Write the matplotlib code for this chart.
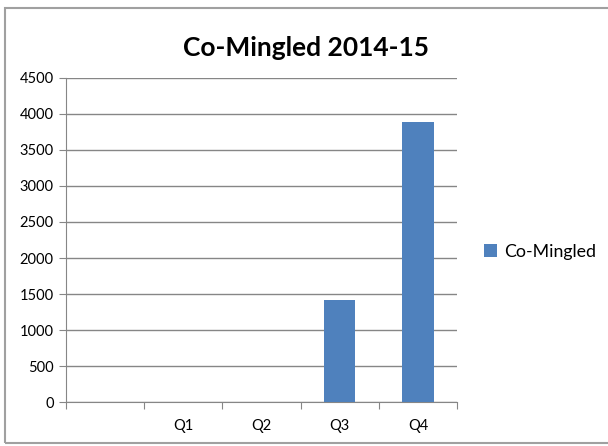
import matplotlib
matplotlib.use("Agg")
import matplotlib.pyplot as plt
from matplotlib.patches import Rectangle

categories = ["", "Q1", "Q2", "Q3", "Q4"]
values = [0, 0, 0, 1420, 3880]
yticks = [0, 500, 1000, 1500, 2000, 2500, 3000, 3500, 4000, 4500]

plt.rcParams["font.family"] = ["Lato", "DejaVu Sans"]

W, H = 608, 446
fig = plt.figure(figsize=(W / 100, H / 100), dpi=100)
ax = fig.add_axes([66 / W, 1 - 402.3 / H, (457 - 66) / W, (402.3 - 77.7) / H])

grey = "#868686"
x = list(range(len(categories)))
nonzero = [(i, v) for i, v in zip(x, values) if v > 0]
ax.bar([i for i, _ in nonzero], [v for _, v in nonzero], width=0.4,
       color="#4f81bd", label="Co-Mingled", zorder=3)

ax.set_xlim(-0.5, len(categories) - 0.5)
ax.set_ylim(0, 4500)
ax.set_yticks(yticks)
ax.set_yticklabels([str(t) for t in yticks])
ax.yaxis.grid(True, color=grey, lw=1, zorder=0)

ax.set_xticks([i - 0.5 for i in range(len(categories) + 1)])
ax.set_xticklabels([])
ax.set_xticks(x, minor=True)
ax.set_xticklabels(categories, minor=True)
ax.tick_params(axis="x", which="major", length=5, color=grey)
ax.tick_params(axis="x", which="minor", length=0, pad=12, labelsize=10.5)
ax.tick_params(axis="y", length=5, color=grey, labelsize=10.5, pad=4)

for s in ["top", "right"]:
    ax.spines[s].set_visible(False)
for s in ["left", "bottom"]:
    ax.spines[s].set_color(grey)

fig.text(306 / W, 1 - 48 / H, "Co-Mingled 2014-15", ha="center", va="center",
         fontsize=19, fontweight="bold")

leg = ax.legend(loc="center left", bbox_to_anchor=(468 / W, 1 - 252 / H),
                bbox_transform=fig.transFigure, frameon=False, fontsize=12.8,
                handlelength=0.75, handleheight=0.75, handletextpad=0.4)

fig.patches.append(Rectangle((4.5 / W, 1 - 443 / H), 1, (443 - 8) / H,
                             transform=fig.transFigure, fill=False,
                             edgecolor="#a0a0a0", lw=1.5))

fig.savefig("out.png", dpi=100)
